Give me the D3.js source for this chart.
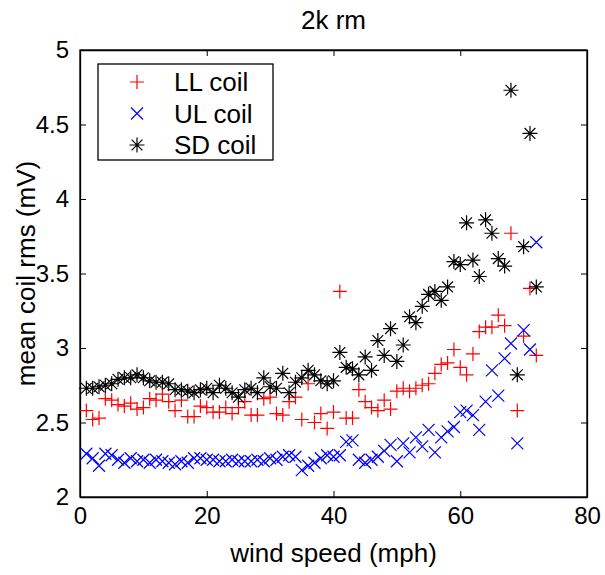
<!DOCTYPE html>
<html><head><meta charset="utf-8">
<script src="https://cdn.jsdelivr.net/npm/d3@7/dist/d3.min.js"></script>
<style>body{margin:0;background:#fff}svg{display:block}</style>
</head><body><svg id="c" width="605" height="575"></svg>
<script>
const windSpeed = [1,2,3,4,5,6,7,8,9,10,11,12,13,14,15,16,17,18,19,20,21,22,23,24,25,26,27,28,29,30,31,32,33,34,35,36,37,38,39,40,41,42,43,44,45,46,47,48,49,50,51,52,53,54,55,56,57,58,59,60,61,62,63,64,65,66,67,68,69,70,71,72];
const llCoil = [2.58,2.52,2.53,2.66,2.65,2.62,2.61,2.63,2.59,2.60,2.66,2.65,2.69,2.64,2.58,2.65,2.54,2.54,2.61,2.60,2.57,2.57,2.60,2.56,2.60,2.64,2.55,2.55,2.66,2.67,2.56,2.55,2.64,2.67,2.52,2.76,2.50,2.56,2.46,2.57,3.38,2.53,2.53,2.72,2.64,2.60,2.58,2.65,2.59,2.71,2.73,2.71,2.73,2.75,2.76,2.83,2.89,2.90,2.99,2.87,2.82,2.96,3.11,3.14,3.14,3.22,3.15,3.77,2.58,3.08,3.40,2.95];
const ulCoil = [2.29,2.26,2.21,2.29,2.28,2.25,2.23,2.26,2.24,2.25,2.23,2.25,2.24,2.23,2.22,2.24,2.23,2.26,2.26,2.25,2.25,2.24,2.24,2.25,2.24,2.24,2.24,2.25,2.24,2.26,2.25,2.27,2.28,2.27,2.18,2.21,2.23,2.26,2.28,2.27,2.28,2.37,2.38,2.25,2.23,2.25,2.27,2.31,2.35,2.24,2.36,2.30,2.40,2.34,2.45,2.30,2.40,2.44,2.47,2.57,2.58,2.55,2.45,2.64,2.85,2.68,2.93,3.03,2.36,3.12,2.99,3.71];
const sdCoil = [2.73,2.73,2.74,2.75,2.76,2.79,2.80,2.80,2.82,2.80,2.78,2.77,2.77,2.76,2.72,2.72,2.71,2.70,2.72,2.73,2.70,2.75,2.73,2.70,2.67,2.72,2.73,2.70,2.80,2.74,2.73,2.83,2.70,2.77,2.80,2.85,2.82,2.78,2.76,2.78,2.97,2.87,2.86,2.82,2.94,2.85,3.05,2.95,3.13,2.91,3.02,3.21,3.17,3.28,3.36,3.38,3.32,3.41,3.58,3.56,3.84,3.59,3.48,3.86,3.77,3.60,3.55,4.73,2.82,3.68,4.44,3.41];
const xTicks = [0,20,40,60,80];
const yTicks = [2,2.5,3,3.5,4,4.5,5];
const seriesNames = ["LL coil","UL coil","SD coil"];
const seriesColors = ["#ff0000","#0000ff","#000000"];
const seriesShapes = ["plus","cross","star"];

const W = 605, H = 575;
const m = {l:80, r:18, t:50, b:78};
const svg = d3.select("#c");
const font = "'Liberation Sans', Arial, Helvetica, sans-serif";
const fs = 24, fsLab = 26;

const x = d3.scaleLinear().domain([0,80]).range([m.l, W - m.r]);
const y = d3.scaleLinear().domain([2,5]).range([H - m.b, m.t]);

function markerPath(shape, s) {
  const p = d3.path();
  if (shape === "plus" || shape === "star") {
    p.moveTo(-s,0); p.lineTo(s,0);
    p.moveTo(0,-s); p.lineTo(0,s);
  }
  if (shape === "cross" || shape === "star") {
    const d = shape === "star" ? s*0.72 : s;
    p.moveTo(-d,-d); p.lineTo(d,d);
    p.moveTo(-d,d); p.lineTo(d,-d);
  }
  return p.toString();
}
const markerSize = {plus:7, cross:6, star:7.5};

svg.append("rect").attr("x", m.l).attr("y", m.t)
  .attr("width", W - m.l - m.r).attr("height", H - m.t - m.b)
  .attr("fill", "#fff").attr("stroke", "#000").attr("stroke-width", 1.3);

const tick = 6;
const gx = svg.append("g").attr("transform", `translate(0,${y(2)})`)
  .call(d3.axisBottom(x).tickValues(xTicks).tickSizeInner(-tick).tickSizeOuter(0).tickPadding(10).tickFormat(d3.format("~g")));
const gxt = svg.append("g").attr("transform", `translate(0,${y(5)})`)
  .call(d3.axisTop(x).tickValues(xTicks).tickSizeInner(-tick).tickSizeOuter(0).tickFormat(""));
const gy = svg.append("g").attr("transform", `translate(${x(0)},0)`)
  .call(d3.axisLeft(y).tickValues(yTicks).tickSizeInner(-tick).tickSizeOuter(0).tickPadding(11).tickFormat(d3.format("~g")));
const gyr = svg.append("g").attr("transform", `translate(${x(80)},0)`)
  .call(d3.axisRight(y).tickValues(yTicks).tickSizeInner(-tick).tickSizeOuter(0).tickFormat(""));
[gx,gxt,gy,gyr].forEach(g => {
  g.select(".domain").attr("stroke", "#000").attr("stroke-width", 1.3);
  g.selectAll(".tick line").attr("stroke", "#000").attr("stroke-width", 1);
  g.selectAll("text").attr("font-family", font).attr("font-size", fs).attr("fill", "#000");
});

const series = [llCoil, ulCoil, sdCoil];
series.forEach((vals, i) => {
  const shape = seriesShapes[i];
  svg.append("g").selectAll("path").data(vals).join("path")
    .attr("transform", (v, j) => `translate(${x(windSpeed[j])},${y(v)})`)
    .attr("d", markerPath(shape, markerSize[shape]))
    .attr("fill", "none").attr("stroke", seriesColors[i]).attr("stroke-width", 1.2);
});

svg.append("text").attr("x", (x(0)+x(80))/2).attr("y", 29).attr("text-anchor", "middle")
  .attr("font-family", font).attr("font-size", fsLab).text("2k rm");
svg.append("text").attr("x", (x(0)+x(80))/2).attr("y", 562).attr("text-anchor", "middle")
  .attr("font-family", font).attr("font-size", fsLab).text("wind speed (mph)");
svg.append("text").attr("transform", `translate(35,${(y(2)+y(5))/2}) rotate(-90)`).attr("text-anchor", "middle")
  .attr("font-family", font).attr("font-size", fsLab).text("mean coil rms (mV)");

const lg = svg.append("g");
lg.append("rect").attr("x", 98).attr("y", 64).attr("width", 175).attr("height", 96)
  .attr("fill", "#fff").attr("stroke", "#000").attr("stroke-width", 1.3);
seriesNames.forEach((n, i) => {
  const cy = 82 + i * 31.5;
  const shape = seriesShapes[i];
  lg.append("path").attr("transform", `translate(137,${cy})`)
    .attr("d", markerPath(shape, markerSize[shape]))
    .attr("fill", "none").attr("stroke", seriesColors[i]).attr("stroke-width", 1.2);
  lg.append("text").attr("x", 174).attr("y", cy).attr("dy", "0.36em")
    .attr("font-family", font).attr("font-size", fsLab).text(n);
});
</script></body></html>
